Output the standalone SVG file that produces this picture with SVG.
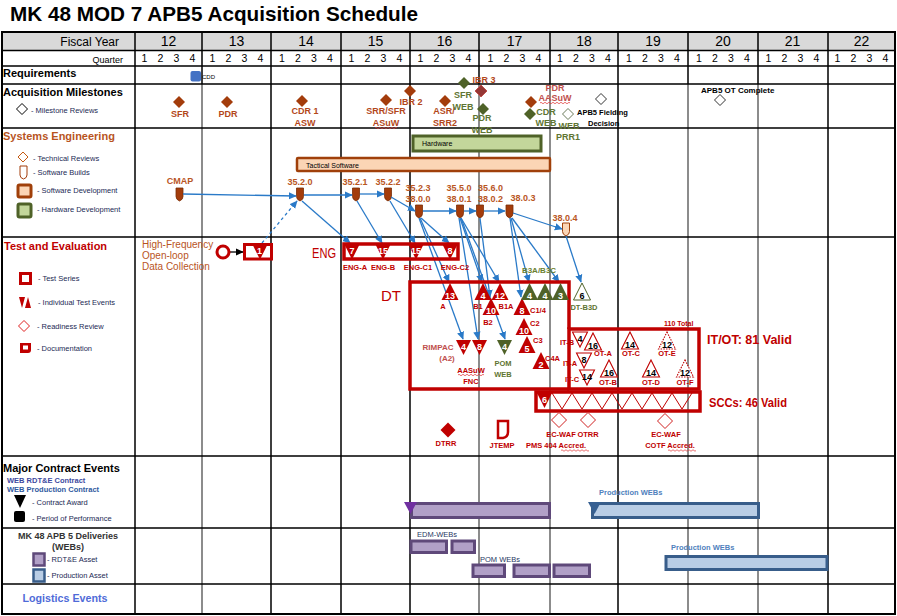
<svg xmlns="http://www.w3.org/2000/svg" width="897" height="616" viewBox="0 0 897 616">
<defs>
<style>
text{font-family:"Liberation Sans",Arial,sans-serif;}
.gl{stroke:#000;stroke-width:1.5;fill:none}
.gg{stroke:#8c8c8c;stroke-width:2;fill:none}
.yr{font-size:14px;text-anchor:middle}
.q{font-size:10.5px;text-anchor:middle}
.sec{font-size:11px;font-weight:bold}
.leg{font-size:7.5px;fill:#1c2a55}
.ms{font-size:9px;font-weight:bold;fill:#b3471a;text-anchor:middle}
.msr{font-size:9px;font-weight:bold;fill:#c0504d;text-anchor:middle}
.msg{font-size:9px;font-weight:bold;fill:#5f7532;text-anchor:middle}
.dia{fill:#a33c0b}
.diag{fill:#4f6228}
.bld{fill:#a33c0b;stroke:#7a2e08;stroke-width:0.8}
.bl{font-size:9px;font-weight:bold;fill:#b9561f;text-anchor:middle}
.arr{stroke:#2a7ac8;stroke-width:1.3;fill:none;marker-end:url(#ah)}
.tr{fill:#c00000}
.trg{fill:#4f6228}
.num{font-size:9px;font-weight:bold;fill:#fff;text-anchor:middle}
.numk{font-size:9px;font-weight:bold;fill:#000;text-anchor:middle}
.rl{font-size:7.5px;font-weight:bold;fill:#c00000;text-anchor:middle}
.rls{font-size:7.5px;font-weight:bold;fill:#c00000}
.gl2{font-size:7.5px;font-weight:bold;fill:#5f7532;text-anchor:middle}
.box{fill:none;stroke:#c00000;stroke-width:3.5}
.hol{fill:#fff;stroke:#c00000;stroke-width:1.1}
.dot{fill:#fff;stroke:#c00000;stroke-width:1.1;stroke-dasharray:1.5 1.2}
.rdia{fill:#fff;stroke:#d02020;stroke-width:1}
.wavy{fill:none;stroke:#e03030;stroke-width:0.7}
.big{font-size:13px;font-weight:bold;fill:#c00000}
</style>
<marker id="ah" viewBox="0 0 10 10" refX="9" refY="5" markerWidth="8" markerHeight="8" markerUnits="userSpaceOnUse" orient="auto"><path d="M0,0.5 L10,5 L0,9.5 Z" fill="#2a7ac8"/></marker>
<marker id="ahk" viewBox="0 0 10 10" refX="9" refY="5" markerWidth="8" markerHeight="8" markerUnits="userSpaceOnUse" orient="auto"><path d="M0,0.5 L10,5 L0,9.5 Z" fill="#000"/></marker>
<path id="dm" d="M0,-6L6,0L0,6L-6,0Z"/>
<path id="dms" d="M0,-5.5L5.5,0L0,5.5L-5.5,0Z"/>
<path id="dmr" d="M0,-7.5L7.5,0L0,7.5L-7.5,0Z"/>
<path id="bd" d="M-3.5,0h7v8.5q0,3 -3.5,4.5q-3.5,-1.5 -3.5,-4.5z"/>
<path id="tu" d="M0,0L8.5,17L-8.5,17Z"/>
<path id="td" d="M-7.5,0L7.5,0L0,15Z"/>
</defs>
<rect x="0" y="0" width="897" height="616" fill="#fff"/>
<text x="10" y="21" font-size="21" font-weight="bold" textLength="408" lengthAdjust="spacingAndGlyphs">MK 48 MOD 7 APB5 Acquisition Schedule</text>

<g id="grid">
<rect x="2" y="32" width="893" height="18.5" fill="#d9d9d9"/>
<path class="gg" d="M202,84V614M479,84V614M550,84V614M688,84V614M758,84V614"/>
<path class="gl" d="M202,32V84M479,32V84M550,32V84M688,32V84M758,32V84M135,32V614M271,32V614M341,32V614M410,32V614M618,32V614M828,32V614"/>
<path class="gl" d="M2,50.5H895M2,66H895M2,84H895M2,128H895M2,237H895M2,456H895M2,528H895M2,584H895"/>
<rect x="2" y="32" width="893" height="582" fill="none" stroke="#000" stroke-width="2"/>
</g>

<g id="header">
<text x="119" y="46" font-size="12" text-anchor="end">Fiscal Year</text>
<text x="123" y="63" font-size="9" text-anchor="end">Quarter</text>
<text class="yr" x="168.5" y="46">12</text><text class="yr" x="236.5" y="46">13</text><text class="yr" x="306" y="46">14</text><text class="yr" x="375.5" y="46">15</text><text class="yr" x="444.5" y="46">16</text><text class="yr" x="514.5" y="46">17</text><text class="yr" x="584" y="46">18</text><text class="yr" x="653" y="46">19</text><text class="yr" x="723" y="46">20</text><text class="yr" x="792.5" y="46">21</text><text class="yr" x="861.5" y="46">22</text>
<text class="q" y="62" x="144.5 160.5 176.5 192.5 212.5 228.5 244.5 260.5 282 298 314 330 351.5 367.5 383.5 399.5 420.5 436.5 452.5 468.5 490.5 506.5 522.5 538.5 560 576 592 608 629 645 661 677 699 715 731 747 768.5 784.5 800.5 816.5 837.5 853.5 869.5 885.5">12341234123412341234123412341234123412341234</text>
</g>

<g id="legend">
<text class="sec" x="3" y="77">Requirements</text>
<text class="sec" x="3" y="96" font-size="10.5">Acquisition Milestones</text>
<use href="#dms" x="22" y="109" fill="#fff" stroke="#000" stroke-width="1"/>
<text class="leg" x="31" y="112.5">- Milestone Reviews</text>
<text class="sec" x="3" y="140" font-size="10.8" fill="#b8541e">Systems Engineering</text>
<path d="M23,152L28,157L23,162L18,157Z" fill="#fff" stroke="#c55a11"/>
<text class="leg" x="33" y="160.5">- Technical Reviews</text>
<path d="M20,166h7v9q0,3 -3.5,4q-3.5,-1 -3.5,-4z" fill="#fff" stroke="#a33c0b" stroke-width="1"/>
<text class="leg" x="33" y="174.5">- Software  Builds</text>
<rect x="18" y="185" width="13" height="12" rx="1.5" fill="#fbd5b5" stroke="#a0400a" stroke-width="3"/>
<text class="leg" x="37" y="192.5">- Software  Development</text>
<rect x="18" y="204" width="13" height="13" rx="1.5" fill="#c3d69b" stroke="#4f6228" stroke-width="3"/>
<text class="leg" x="37" y="211.5">- Hardware  Development</text>
<text class="sec" x="4" y="250" fill="#c00000">Test and Evaluation</text>
<rect x="20.5" y="273.5" width="10" height="10" fill="#fff" stroke="#c00000" stroke-width="3"/>
<text class="leg" x="38" y="280.5">- Test Series</text>
<path d="M19,297h6l-3,11z" fill="#c00000"/><path d="M28,297l3,11h-6z" fill="#c00000"/>
<text class="leg" x="38" y="304.5">- Individual  Test Events</text>
<path d="M24,320.5L29.5,326L24,331.5L18.5,326Z" fill="#fff" stroke="#e02020" stroke-width="1"/>
<text class="leg" x="37" y="328.5">- Readiness  Review</text>
<path d="M20,343h11v7q0,3 -3,3h-8z" fill="#c00000"/><rect x="23" y="345.5" width="5" height="4" fill="#fff"/>
<text class="leg" x="37" y="350.5">- Documentation</text>
<text class="sec" x="3" y="472" font-size="10.3">Major Contract Events</text>
<text x="7" y="483" font-size="7.5" font-weight="bold" fill="#3d4aa0">WEB RDT&amp;E Contract</text>
<text x="7" y="492" font-size="7.5" font-weight="bold" fill="#2f5aa0">WEB Production Contract</text>
<path d="M14,495h12l-6,13z" fill="#000"/>
<text class="leg" x="32" y="504.5">- Contract Award</text>
<rect x="14" y="511" width="11" height="11" rx="2" fill="#000"/>
<text class="leg" x="32" y="520.5">- Period of Performance</text>
<text x="68" y="538.5" font-size="9" font-weight="bold" fill="#333" text-anchor="middle">MK 48 APB 5 Deliveries</text>
<text x="68" y="549.5" font-size="9" font-weight="bold" fill="#333" text-anchor="middle">(WEBs)</text>
<rect x="33.5" y="553.5" width="11" height="12" fill="#b1a0c7" stroke="#5f497a" stroke-width="2.5"/>
<text class="leg" x="47" y="561.5">- RDT&amp;E Asset</text>
<rect x="33.5" y="569.5" width="11" height="12" fill="#b9cde5" stroke="#385d8a" stroke-width="2.5"/>
<text class="leg" x="47" y="577.5">- Production  Asset</text>
<text x="65" y="602" font-size="10.7" font-weight="bold" fill="#4f6bd8" text-anchor="middle">Logistics Events</text>
</g>

<g id="req-cdd">
<rect x="190.5" y="71" width="10.5" height="10.5" rx="2" fill="#4472c4"/>
<text x="202" y="78.5" font-size="6">CDD</text>
</g>

<g id="milestones">
<g id="ms-sfr"><use href="#dm" x="179" y="102" class="dia"/><text class="ms" x="180" y="117">SFR</text></g>
<g id="ms-pdr"><use href="#dm" x="227" y="102" class="dia"/><text class="ms" x="228" y="117">PDR</text></g>
<g id="ms-cdr1"><use href="#dm" x="302" y="101" class="dia"/><text class="ms" x="305" y="114">CDR 1</text><text class="ms" x="305" y="125.5">ASW</text></g>
<g id="ms-srr"><use href="#dm" x="386" y="100" class="dia"/><text class="ms" x="386" y="114">SRR/SFR</text><text class="ms" x="386" y="125.5">ASuW</text>
<path class="wavy" d="M375,128q1,-1.5 2,0t2,0t2,0t2,0t2,0t2,0t2,0t2,0t2,0t2,0t2,0"/></g>
<g id="ms-ibr2"><use href="#dm" x="410" y="91" class="dia"/><text class="ms" x="411" y="105">IBR 2</text></g>
<g id="ms-asr"><use href="#dm" x="445" y="101" class="dia"/><text class="ms" x="444" y="114">ASR/</text><text class="ms" x="445" y="126">SRR2</text></g>
<g id="ms-sfrweb"><use href="#dm" x="464" y="83" class="diag"/><text class="msg" x="463" y="97.5">SFR</text><text class="msg" x="463" y="109.5">WEB</text></g>
<g id="ms-ibr3"><use href="#dm" x="481" y="91" fill="#953735" stroke="#c0504d" stroke-width="1"/><text class="ms" x="484" y="83">IBR 3</text></g>
<g id="ms-pdrweb"><use href="#dm" x="483" y="109" class="diag"/><text class="msg" x="482" y="121">PDR</text><text class="msg" x="482" y="132.5">WEB</text></g>
<g id="ms-pdraasuw"><use href="#dm" x="531" y="102" class="dia"/><text class="msr" x="555" y="90.5">PDR</text><text class="msr" x="555" y="100.5">AASuW</text>
<path class="wavy" d="M540,103q1,-1.5 2,0t2,0t2,0t2,0t2,0t2,0t2,0t2,0t2,0t2,0t2,0t2,0t2,0t2,0t2,0"/></g>
<g id="ms-cdrweb"><use href="#dm" x="530" y="114" class="diag"/><text class="msg" x="546" y="114.5">CDR</text><text class="msg" x="546" y="125.5">WEB</text></g>
<g id="ms-prr1"><use href="#dms" x="568" y="114" fill="#fff" stroke="#6b7b5a" stroke-width="1"/><text class="msg" x="569" y="128.5">WEB</text><text class="msg" x="568" y="139.5">PRR1</text></g>
<g id="ms-fielding"><use href="#dms" x="601" y="99" fill="#fff" stroke="#333" stroke-width="1"/><text x="577" y="115" font-size="7.5" font-weight="bold">APB5 Fielding</text><text x="588" y="126" font-size="7.5" font-weight="bold">Decision</text></g>
<g id="ms-otcomplete"><text x="701" y="93" font-size="8" font-weight="bold">APB5 OT Complete</text><use href="#dms" x="720" y="100" fill="#fff" stroke="#333" stroke-width="1"/></g>
</g>

<g id="se">
<g id="hardware"><rect x="413" y="136" width="128" height="15" fill="#c3d69b" stroke="#4f6228" stroke-width="3"/><text x="422" y="146" font-size="7">Hardware</text></g>
<g id="tactical"><rect x="297" y="158" width="253" height="13" rx="1" fill="#fbd5b5" stroke="#a0400a" stroke-width="2.5"/><text x="306" y="167.5" font-size="7">Tactical Software</text></g>
<g id="b-cmap"><text class="bl" x="180" y="183.5">CMAP</text><use href="#bd" x="179.5" y="188" class="bld"/></g>
<g id="b-3520"><text class="bl" x="300" y="184.5">35.2.0</text><use href="#bd" x="300" y="188" class="bld"/></g>
<g id="b-3521"><text class="bl" x="355" y="184.5">35.2.1</text><use href="#bd" x="356" y="188" class="bld"/></g>
<g id="b-3522"><text class="bl" x="388" y="184.5">35.2.2</text><use href="#bd" x="388" y="188" class="bld"/></g>
<g id="b-3523"><text class="bl" x="418" y="190.8">35.2.3</text><text class="bl" x="418" y="201.8">38.0.0</text><use href="#bd" x="419" y="205" class="bld"/></g>
<g id="b-3550"><text class="bl" x="459" y="190.8">35.5.0</text><text class="bl" x="459" y="201.8">38.0.1</text><use href="#bd" x="460" y="205" class="bld"/></g>
<g id="b-3560"><text class="bl" x="490.5" y="190.8">35.6.0</text><text class="bl" x="490.5" y="201.8">38.0.2</text><use href="#bd" x="480" y="205" class="bld"/></g>
<g id="b-3803"><text class="bl" x="523" y="200.8">38.0.3</text><use href="#bd" x="509.5" y="205" class="bld"/></g>
<g id="b-3804"><text class="bl" x="565" y="221">38.0.4</text><use href="#bd" x="566" y="223" fill="#fbd5b5" stroke="#a0400a" stroke-width="1"/></g>
</g>

<g id="connectors">
<path class="arr" d="M183,194L296,196"/>
<path class="arr" d="M304,195L352,195"/>
<path class="arr" d="M360,194L384,194"/>
<path class="arr" d="M391,197L415,211"/>
<path class="arr" d="M423,211L456,211"/>
<path class="arr" d="M464,211L476,211"/>
<path class="arr" d="M484,211L505,211"/>
<path class="arr" d="M513,213L562,229"/>
<path class="arr" d="M262,243L297,201" stroke-dasharray="3 3"/>
<path class="arr" d="M302,201L350,243"/>
<path class="arr" d="M357,201L382,243"/>
<path class="arr" d="M390,201L415,243"/>
<path class="arr" d="M421,218L449,243"/>
<path class="arr" d="M420,218L449,282"/>
<path class="arr" d="M419,218L463,339"/>
<path class="arr" d="M460,218L482,282"/>
<path class="arr" d="M461,218L499,282"/>
<path class="arr" d="M459,218L478,339"/>
<path class="arr" d="M461,218L505,339"/>
<path class="arr" d="M480,218L490,297"/>
<path class="arr" d="M510,218L521,297"/>
<path class="arr" d="M511,218L529,282"/>
<path class="arr" d="M512,218L559,282"/>
<path class="arr" d="M566,236L581,282"/>
<path d="M230,252L243,252" stroke="#000" stroke-width="1.3" marker-end="url(#ahk)"/>
</g>

<g id="hfold">
<text x="142" y="248" font-size="10" fill="#b8541e">High-Frequency</text>
<text x="142" y="259" font-size="10" fill="#b8541e">Open-loop</text>
<text x="142" y="270" font-size="10" fill="#b8541e">Data Collection</text>
<circle cx="223" cy="252" r="6" fill="#fff" stroke="#c00000" stroke-width="3"/>
</g>
<g id="ts-1"><rect x="244.5" y="244.5" width="27" height="14.5" fill="#fff" stroke="#c00000" stroke-width="3"/><use href="#td" x="260" y="244.5" class="tr"/><text class="num" x="259.5" y="254">1</text></g>

<g id="eng">
<text x="312" y="258" font-size="14" fill="#c00000" textLength="24" lengthAdjust="spacingAndGlyphs">ENG</text>
<rect x="344" y="244" width="114" height="15" class="box"/>
<use href="#td" x="352" y="244.5" class="tr"/><text class="num" x="352" y="254">7</text>
<use href="#td" x="383" y="244.5" class="tr"/><text class="num" x="383" y="254">15</text>
<use href="#td" x="416" y="244.5" class="tr"/><text class="num" x="416" y="254">15</text>
<use href="#td" x="450" y="244.5" class="tr"/><text class="num" x="450" y="254">8</text>
<text class="rl" x="355" y="270">ENG-A</text><text class="rl" x="383" y="270">ENG-B</text><text class="rl" x="418" y="270">ENG-C1</text><text class="rl" x="455" y="270">ENG-C2</text>
</g>

<g id="dt">
<text x="381" y="301" font-size="15" fill="#c00000">DT</text>
<path class="box" d="M569,329V282H410V389H569"/>
<path d="M569,329V389" stroke="#c00000" stroke-width="1.2"/>
<use href="#tu" x="450" y="283" class="tr"/><text class="num" x="450" y="298.5">13</text><text class="rl" x="443" y="309">A</text>
<use href="#tu" x="483" y="283" class="tr"/><text class="num" x="483" y="298.5">4</text><text class="rl" x="478" y="309">B1</text>
<use href="#tu" x="500" y="283" class="tr"/><text class="num" x="500" y="298.5">12</text><text class="rl" x="506" y="309">B1A</text>
<use href="#tu" x="491" y="298" class="tr"/><text class="num" x="491" y="313.5">10</text><text class="rl" x="488" y="325">B2</text>
<use href="#tu" x="522" y="298" class="tr"/><text class="num" x="522" y="313.5">8</text><text class="rls" x="530" y="313">C1/4</text>
<use href="#tu" x="524" y="318" class="tr"/><text class="num" x="524" y="333.5">10</text><text class="rls" x="530" y="326">C2</text>
<use href="#tu" x="527" y="336" class="tr"/><text class="num" x="527" y="351.5">5</text><text class="rls" x="533" y="343">C3</text>
<use href="#tu" x="541" y="352" class="tr"/><text class="num" x="541" y="367.5">2</text><text class="rls" x="545" y="361">C4A</text>
<text x="539" y="273" font-size="8" font-weight="bold" fill="#6b7f30" text-anchor="middle">B3A/B3C</text>
<use href="#tu" x="529.5" y="283" class="trg"/><text class="num" x="529.5" y="298.5">4</text>
<use href="#tu" x="545" y="283" class="trg"/><text class="num" x="545" y="298.5">4</text>
<use href="#tu" x="560.5" y="283" class="trg"/><text class="num" x="560.5" y="298.5">3</text>
<use href="#tu" x="582" y="283" fill="#fff" stroke="#4f6228" stroke-width="1"/><text class="numk" x="582" y="298.5">6</text>
<text class="gl2" x="584" y="310">DT-B3D</text>
<text x="438" y="350" font-size="8" font-weight="bold" fill="#c0504d" text-anchor="middle">RIMPAC</text>
<text x="447" y="361" font-size="8" font-weight="bold" fill="#c0504d" text-anchor="middle">(A2)</text>
<use href="#td" x="463.5" y="340" class="tr"/><text class="num" x="463.5" y="350">4</text>
<use href="#td" x="479.5" y="340" class="tr"/><text class="num" x="479.5" y="350">8</text>
<text class="rl" x="471" y="373" font-size="8">AASuW</text>
<path class="wavy" d="M458,375q1,-1.5 2,0t2,0t2,0t2,0t2,0t2,0t2,0t2,0t2,0t2,0t2,0t2,0t2,0"/>
<text class="rl" x="471" y="384" font-size="8">FNC</text>
<use href="#td" x="504.5" y="340" class="trg"/><text class="num" x="504.5" y="350">4</text>
<text class="gl2" x="503" y="366" font-size="8">POM</text><text class="gl2" x="503" y="377" font-size="8">WEB</text>
</g>

<g id="itot">
<rect x="569" y="329" width="130" height="60" class="box"/>
<text x="664" y="325.5" font-size="7" font-weight="bold" fill="#c00000">110 Total</text>
<text x="707" y="344" class="big" textLength="85" lengthAdjust="spacingAndGlyphs">IT/OT: 81 Valid</text>
<use href="#td" x="580" y="332" class="hol"/><text class="numk" x="580" y="341.5">4</text><text class="rls" x="560" y="345">IT-B</text>
<use href="#td" x="584" y="353" class="hol"/><text class="numk" x="584" y="362.5">8</text><text class="rls" x="563" y="366">IT-A</text>
<use href="#td" x="587" y="370" class="hol"/><text class="numk" x="587" y="379.5">14</text><text class="rls" x="565" y="382">IT-C</text>
<use href="#tu" x="593" y="333" class="hol"/><text class="numk" x="593" y="348.5">16</text><text class="rl" x="603" y="356">OT-A</text>
<use href="#tu" x="630" y="332" class="hol"/><text class="numk" x="630" y="347.5">14</text><text class="rl" x="631" y="356">OT-C</text>
<use href="#tu" x="667" y="332" class="dot"/><text class="numk" x="667" y="347.5">12</text><text class="rl" x="667" y="356">OT-E</text>
<use href="#tu" x="609" y="360" class="hol"/><text class="numk" x="609" y="375.5">16</text><text class="rl" x="608" y="385">OT-B</text>
<use href="#tu" x="651" y="360" class="hol"/><text class="numk" x="651" y="375.5">14</text><text class="rl" x="651" y="385">OT-D</text>
<use href="#tu" x="685" y="360" class="dot"/><text class="numk" x="685" y="375.5">12</text><text class="rl" x="685" y="385">OT-F</text>
</g>

<g id="scc">
<rect x="536" y="392" width="164" height="19" class="box"/>
<use href="#td" x="544.5" y="393" class="tr"/><text class="num" x="544.5" y="402.5">6</text>
<polyline points="552,393 562,409 572,393 582,409 592,393 602,409 612,393 622,409 632,393 642,409 652,393 662,409 672,393 682,409 692,393" fill="none" stroke="#c00000" stroke-width="1"/>
<text x="709" y="407" class="big" textLength="78" lengthAdjust="spacingAndGlyphs">SCCs: 46 Valid</text>
</g>

<g id="reviews">
<g id="dtrr"><use href="#dmr" x="448" y="430" fill="#c00000"/><text class="rl" x="446" y="446" font-size="8">DTRR</text></g>
<g id="jtemp"><path d="M498,421h10v11q0,5 -5,6h-5z" fill="#fff" stroke="#c00000" stroke-width="2.5"/><text class="rl" x="502" y="448" font-size="8">JTEMP</text></g>
<g id="ecwaf1"><use href="#dmr" x="559" y="420" class="rdia"/><text class="rl" x="561" y="437" font-size="8">EC-WAF</text><text class="rl" x="556" y="448" font-size="8">PMS 404 Accred.</text>
<path class="wavy" d="M561,450.5q1,-1.5 2,0t2,0t2,0t2,0t2,0t2,0t2,0t2,0t2,0t2,0t2,0t2,0t2,0t2,0"/></g>
<g id="otrr"><use href="#dmr" x="588" y="420" class="rdia"/><text class="rl" x="588" y="437" font-size="8">OTRR</text></g>
<g id="ecwaf2"><use href="#dmr" x="665" y="421" class="rdia"/><text class="rl" x="666" y="437" font-size="8">EC-WAF</text><text class="rl" x="670" y="448" font-size="8">COTF Accred.</text>
<path class="wavy" d="M668,450.5q1,-1.5 2,0t2,0t2,0t2,0t2,0t2,0t2,0t2,0t2,0t2,0t2,0t2,0t2,0t2,0"/></g>
</g>

<g id="contracts">
<g id="rdte-contract"><rect x="411.5" y="503.5" width="138" height="14" fill="#b1a0c7" stroke="#5f497a" stroke-width="3"/><path d="M404,502h13l-6.5,12z" fill="#7030a0"/></g>
<g id="prod-contract"><text x="599" y="495" font-size="7.5" font-weight="bold" fill="#4f81bd">Production WEBs</text><rect x="592.5" y="503.5" width="166" height="14" fill="#b9cde5" stroke="#385d8a" stroke-width="3"/><path d="M588,502h13l-6.5,12z" fill="#376092"/></g>
</g>

<g id="deliveries">
<text x="417" y="537" font-size="7.5" fill="#1f3864">EDM-WEBs</text>
<rect x="411" y="541" width="35.5" height="11.5" fill="#b1a0c7" stroke="#5f497a" stroke-width="3"/>
<rect x="452" y="541" width="22.5" height="11.5" fill="#b1a0c7" stroke="#5f497a" stroke-width="3"/>
<text x="480" y="562" font-size="7.5" fill="#1f3864">POM WEBs</text>
<rect x="473" y="565" width="31.5" height="11.5" fill="#b1a0c7" stroke="#5f497a" stroke-width="3"/>
<rect x="514" y="565" width="35.5" height="11.5" fill="#b1a0c7" stroke="#5f497a" stroke-width="3"/>
<rect x="554" y="565" width="35.5" height="11.5" fill="#b1a0c7" stroke="#5f497a" stroke-width="3"/>
<text x="671" y="550" font-size="7.5" font-weight="bold" fill="#4f81bd">Production WEBs</text>
<rect x="666" y="556.5" width="161" height="13" fill="#b9cde5" stroke="#385d8a" stroke-width="3"/>
</g>
</svg>
